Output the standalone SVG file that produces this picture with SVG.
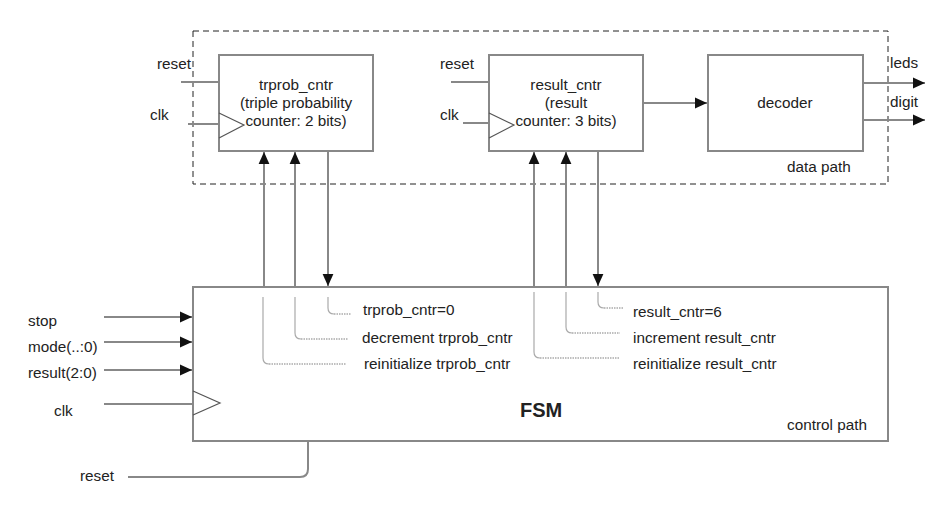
<svg xmlns="http://www.w3.org/2000/svg" width="940" height="512" viewBox="0 0 940 512">
<style>
text{font-family:"Liberation Sans",Arial,sans-serif;font-size:15.3px;fill:#222}
.box{fill:#fff;stroke:#888;stroke-width:2}
.w{fill:none;stroke:#888;stroke-width:2}
.clk{fill:none;stroke:#555;stroke-width:1.2}
.dot{fill:none;stroke:#aaa;stroke-width:1.2}
.dt{fill:none;stroke:#aaa;stroke-width:1.5;stroke-dasharray:1.5,1}
.mid{text-anchor:middle}
</style>
<defs>
<marker id="ah" markerUnits="userSpaceOnUse" markerWidth="12" markerHeight="12" viewBox="0 0 10 10" refX="10" refY="5" orient="auto">
<path d="M0,0.5 L10,5 L0,9.5 Z" fill="#111"/>
</marker>
</defs>
<rect id="datapath" x="193" y="31" width="695" height="153" fill="none" stroke="#222" stroke-width="1" stroke-dasharray="6,4"/>
<text x="787" y="172">data path</text>
<g id="trprob_cntr">
<rect class="box" x="219" y="55" width="154" height="96"/>
<path class="clk" d="M219,113 L244,125 L219,138"/>
<text class="mid" x="296" y="90">trprob_cntr</text>
<text class="mid" x="296" y="108">(triple probability</text>
<text class="mid" x="296" y="126">counter: 2 bits)</text>
</g>
<g id="result_cntr">
<rect class="box" x="489" y="55" width="154" height="96"/>
<path class="clk" d="M489,113 L514,125 L489,138"/>
<text class="mid" x="566" y="90">result_cntr</text>
<text class="mid" x="566" y="108">(result</text>
<text class="mid" x="566" y="126">counter: 3 bits)</text>
</g>
<g id="decoder">
<rect class="box" x="708" y="55" width="155" height="96"/>
<text class="mid" x="785" y="108">decoder</text>
</g>
<g id="fsm">
<rect class="box" x="193" y="287" width="695" height="154"/>
<path class="clk" d="M193,391 L220,403 L193,415"/>
<text x="520" y="417" style="font-size:20px;font-weight:bold">FSM</text>
<text x="787" y="430">control path</text>
<text x="363" y="315">trprob_cntr=0</text>
<text x="362" y="343">decrement trprob_cntr</text>
<text x="364" y="369">reinitialize trprob_cntr</text>
<text x="633" y="317">result_cntr=6</text>
<text x="633" y="343">increment result_cntr</text>
<text x="633" y="369">reinitialize result_cntr</text>
</g>
<g id="labels">
<text x="157" y="69">reset</text>
<text x="150" y="120">clk</text>
<text x="440" y="69">reset</text>
<text x="440" y="120">clk</text>
<text x="890" y="68">leds</text>
<text x="890" y="107">digit</text>
<text x="28" y="326">stop</text>
<text x="28" y="352">mode(..:0)</text>
<text x="28" y="378">result(2:0)</text>
<text x="54" y="416">clk</text>
<text x="80" y="481">reset</text>
</g>
<g id="connectors">
<path class="w" d="M181,82 H219"/>
<path class="w" d="M188,124 H219"/>
<path class="w" d="M451,82 H489"/>
<path class="w" d="M463,123 H489"/>
<path class="w" d="M643,103 H707" marker-end="url(#ah)"/>
<path class="w" d="M863,83 H925" marker-end="url(#ah)"/>
<path class="w" d="M863,120 H925" marker-end="url(#ah)"/>
<path class="w" d="M264,287 V152" marker-end="url(#ah)"/>
<path class="w" d="M295,287 V152" marker-end="url(#ah)"/>
<path class="w" d="M328,151 V286" marker-end="url(#ah)"/>
<path class="w" d="M534,287 V152" marker-end="url(#ah)"/>
<path class="w" d="M566,287 V152" marker-end="url(#ah)"/>
<path class="w" d="M598,151 V286" marker-end="url(#ah)"/>
<path class="w" d="M104,317 H192" marker-end="url(#ah)"/>
<path class="w" d="M104,342 H192" marker-end="url(#ah)"/>
<path class="w" d="M104,370 H192" marker-end="url(#ah)"/>
<path class="w" d="M104,404 H193"/>
<path class="w" d="M308,441 V469 Q308,477 300,477 H128"/>
<path class="dot" d="M328,297 V308 Q328,314 334,314"/>
<path class="dt" d="M334,314 H351"/>
<path class="dot" d="M295,297 V333 Q295,339 301,339"/>
<path class="dt" d="M301,339 H348"/>
<path class="dot" d="M263,297 V358 Q263,364 269,364"/>
<path class="dt" d="M269,364 H346"/>
<path class="dot" d="M598,292 V302 Q598,308 604,308"/>
<path class="dt" d="M604,308 H624"/>
<path class="dot" d="M566,292 V327 Q566,333 572,333"/>
<path class="dt" d="M572,333 H620"/>
<path class="dot" d="M534,292 V352 Q534,358 540,358"/>
<path class="dt" d="M540,358 H619"/>
</g>
</svg>
